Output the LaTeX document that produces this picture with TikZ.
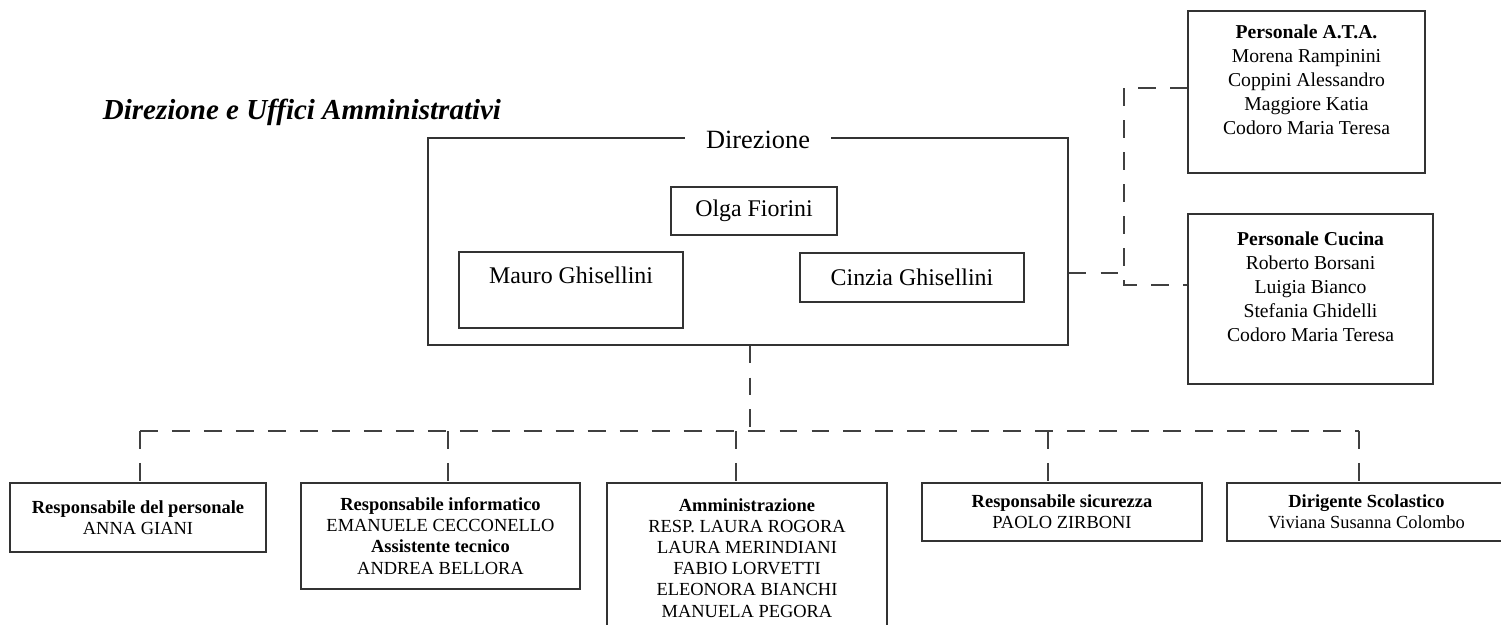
\documentclass[tikz,border=0pt]{standalone}
\usepackage{fontspec}
\setmainfont{Liberation Serif}
\newlength\px
\setlength\px{0.02cm}

\begin{document}
\begin{tikzpicture}[x=0.02cm, y=-0.02cm,
  box/.style={draw=black!80, line width=0.6pt, align=center, inner sep=0pt},
  name box/.style={box, font=\fontsize{13.6}{16.5}\selectfont},
  staff box/.style={box, font=\fontsize{11.2}{13.7}\selectfont},
  office box/.style={box, font=\fontsize{10.5}{12}\selectfont},
  dashline/.style={draw=black!75, line width=0.6pt, dash pattern=on 10.2pt off 8pt}]

  \clip (0,0) rectangle (1501,625);

  % Title

  \node [font=\fontsize{16.5}{20}\selectfont\bfseries\itshape] (title) at (302,112) {Direzione e Uffici Amministrativi};

  % Direzione and its members

  \node [box, minimum width=640\px, minimum height=207\px] (dir) at (748,241.5) {};
  \node [fill=white, inner xsep=12pt, inner ysep=1pt, font=\fontsize{15}{18}\selectfont] (dirlabel) at (758,140) {Direzione};

  \node [name box, minimum width=166\px, minimum height=48\px] (olga) at (754,211) {Olga Fiorini};
  \node [name box, minimum width=224\px, minimum height=76\px] (mauro) at (571,290) {Mauro Ghisellini\\~};
  \node [name box, minimum width=224\px, minimum height=49\px] (cinzia) at (912,277.5) {Cinzia Ghisellini};

  % Staff on the right

  \node [staff box, minimum width=237\px, minimum height=162\px] (ata) at (1306.5,92)
    {\textbf{Personale A.T.A.}\\Morena Rampinini\\Coppini Alessandro\\Maggiore Katia\\Codoro Maria Teresa\\~};
  \node [staff box, minimum width=245\px, minimum height=170\px] (cucina) at (1310.5,299)
    {\textbf{Personale Cucina}\\Roberto Borsani\\Luigia Bianco\\Stefania Ghidelli\\Codoro Maria Teresa\\~};

  % Offices below

  \node [office box, minimum width=256\px, minimum height=69\px] (pers) at (138,517.5)
    {\textbf{Responsabile del personale}\\ANNA GIANI};
  \node [office box, minimum width=279\px, minimum height=106\px] (info) at (440.5,536)
    {\textbf{Responsabile informatico}\\EMANUELE CECCONELLO\\\textbf{Assistente tecnico}\\ANDREA BELLORA};
  \node [office box, minimum width=280\px, minimum height=150\px] (amm) at (747,558)
    {\textbf{Amministrazione}\\RESP. LAURA ROGORA\\LAURA MERINDIANI\\FABIO LORVETTI\\ELEONORA BIANCHI\\MANUELA PEGORA};
  \node [office box, minimum width=280\px, minimum height=58\px] (sic) at (1062,512)
    {\textbf{Responsabile sicurezza}\\PAOLO ZIRBONI};
  \node [office box, minimum width=279\px, minimum height=58\px] (dirig) at (1366.5,512)
    {\textbf{Dirigente Scolastico}\\Viviana Susanna Colombo};

  % Dashed connections

  \coordinate (bus) at (750,431);
  \coordinate (busL) at (140,431);
  \coordinate (busR) at (1359,431);
  \draw [dashline] (dir.south -| bus) -- (bus);
  \draw [dashline] (busL) -- (busR);
  \foreach \n/\x in {pers/140, info/448, amm/736, sic/1048, dirig/1359} {
    \coordinate (drop) at (\x,431);
    \draw [dashline] (drop) -- (drop |- \n.north);
  }

  \coordinate (side) at (1124,273);
  \coordinate (ataj) at (1124,88);
  \coordinate (cucj) at (1124,285);
  \draw [dashline] (dir.east |- side) -- (side);
  \draw [dashline] (ata.west |- ataj) -- (ataj) -- (cucj) -- (cucina.west |- cucj);

\end{tikzpicture}
\end{document}
